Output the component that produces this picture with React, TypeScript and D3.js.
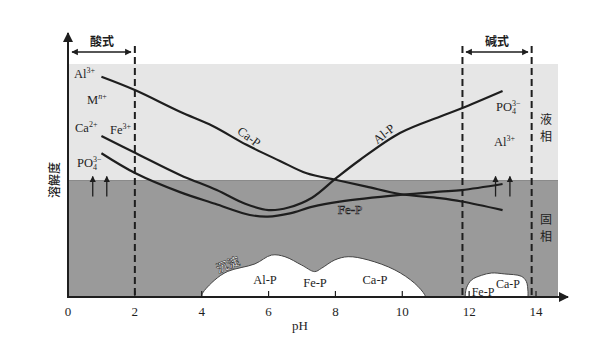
import React from 'react';
import * as d3 from 'd3';

// pH ticks on the x axis
const xTicks = [0, 2, 4, 6, 8, 10, 12, 14];

// solubility curves, [pH, relative solubility]
const caP: [number, number][] = [
  [1.0, 94.5], [2.0, 88.8], [3.35, 79.5], [4.33, 73.4], [5.34, 65.3], [6.34, 58.4],
  [7.14, 53.1], [8.03, 50.2], [8.93, 47.4], [9.93, 44.2], [11.12, 42.4], [11.78, 41.0], [13.0, 37.3],
];
const alP: [number, number][] = [
  [1.0, 69.1], [2.02, 61.8], [3.35, 52.4], [4.45, 45.9], [5.3, 40.0], [6.0, 37.3],
  [6.6, 38.4], [7.3, 42.6], [8.03, 51.1], [8.73, 58.8], [9.93, 70.4], [11.12, 77.4], [11.78, 81.0], [13.0, 88.4],
];
const feP: [number, number][] = [
  [1.0, 61.7], [2.02, 53.1], [3.35, 45.0], [4.4, 40.0], [5.44, 35.2], [5.98, 34.5],
  [6.64, 35.9], [7.32, 38.8], [8.13, 40.9], [9.93, 43.8], [11.12, 45.2], [11.78, 45.9], [13.0, 48.5],
];

// precipitate zones
const precipA: [number, number][] = [
  [4.0, 0], [4.02, 1.5], [4.39, 7.3], [4.78, 11.0], [5.59, 14.2], [6.09, 18.0], [6.49, 17.3],
  [6.99, 13.7], [7.38, 10.9], [7.58, 12.3], [7.98, 15.9], [8.38, 17.3], [8.98, 15.9],
  [9.78, 11.6], [10.37, 5.9], [10.67, 1.0], [10.69, 0],
];
const precipB: [number, number][] = [
  [11.88, 0], [11.92, 3.9], [12.07, 7.3], [12.37, 9.3], [12.67, 10.3], [13.06, 9.9],
  [13.56, 8.9], [13.71, 6.7], [13.76, 2.4], [13.76, 0],
];

// boundaries
const phaseBoundary = 50;
const acidLimit = 2;
const baseLimits = [11.8, 13.87];

const W = 605;
const H = 352;

export default function App() {
  const x = d3.scaleLinear().domain([0, 14]).range([68, 536]);
  const y = d3.scaleLinear().domain([0, 100]).range([297, 64]);

  const line = d3.line<[number, number]>()
    .x(d => x(d[0]))
    .y(d => y(d[1]))
    .curve(d3.curveCatmullRom.alpha(0.5));

  const serif = '"Liberation Serif", "DejaVu Serif", serif';
  const cjk = '"Noto Sans CJK SC", sans-serif';
  const ink = '#1e1e1e';
  const right = 558;

  const sup = (t: string) => <tspan fontSize={8} dy={-5}>{t}</tspan>;

  const po4 = (px: number, py: number) => (
    <text x={px} y={py} fontFamily={serif} fontSize={12.5} fill={ink}>
      PO
      <tspan fontSize={8} dy={3}>4</tspan>
      <tspan fontSize={8} dx={-4} dy={-8}>3−</tspan>
    </text>
  );

  const upArrows = (xs: number[]) =>
    xs.map(v => (
      <line key={v} x1={x(v)} x2={x(v)} y1={y(43.1)} y2={y(52.6) + 2}
        stroke={ink} strokeWidth={1.3} markerEnd="url(#tip)" />
    ));

  return (
    <svg width={W} height={H} style={{ position: 'absolute', left: 0, top: 0, background: '#fff' }}>
      <defs>
        <marker id="tip" viewBox="0 0 10 10" refX="9" refY="5" markerWidth="5" markerHeight="6" orient="auto-start-reverse">
          <path d="M0,0 L10,5 L0,10 z" fill={ink} />
        </marker>
        <marker id="big" viewBox="0 0 10 10" refX="9" refY="5" markerWidth="7" markerHeight="5" orient="auto">
          <path d="M0,0 L10,5 L0,10 z" fill={ink} />
        </marker>
      </defs>

      {/* phase regions */}
      <rect x={x(0)} y={y(100)} width={right - x(0)} height={y(phaseBoundary) - y(100)} fill="#e6e6e6" />
      <rect x={x(0)} y={y(phaseBoundary)} width={right - x(0)} height={y(0) - y(phaseBoundary)} fill="#9a9a9a" />
      <line x1={x(0)} x2={right} y1={y(phaseBoundary)} y2={y(phaseBoundary)} stroke="#8a8a8a" strokeWidth={1} />

      {/* precipitates */}
      <path d={line(precipA) + 'Z'} fill="#fff" stroke="#444" strokeWidth={1} />
      <path d={line(precipB) + 'Z'} fill="#fff" stroke="#444" strokeWidth={1} />

      {/* dashed boundaries */}
      {[acidLimit, ...baseLimits].map(v => (
        <line key={v} x1={x(v)} x2={x(v)} y1={46} y2={y(0)} stroke={ink} strokeWidth={2} strokeDasharray="7,4" />
      ))}

      {/* curves */}
      {[caP, alP, feP].map((d, i) => (
        <path key={i} d={line(d) ?? ''} fill="none" stroke={ink} strokeWidth={2.2} />
      ))}

      {upArrows([0.74, 1.16])}
      {upArrows([12.79, 13.22])}

      {/* axes */}
      <line x1={x(0)} x2={568} y1={y(0)} y2={y(0)} stroke={ink} strokeWidth={2} markerEnd="url(#big)" />
      <line x1={x(0)} x2={x(0)} y1={y(0) + 1} y2={33} stroke={ink} strokeWidth={2} markerEnd="url(#big)" />
      {xTicks.map(t => (
        <g key={t}>
          <line x1={x(t)} x2={x(t)} y1={y(0)} y2={y(0) - 6} stroke={ink} strokeWidth={1.2} />
          <text x={x(t)} y={316} textAnchor="middle" fontFamily={serif} fontSize={13} fill={ink}>{t}</text>
        </g>
      ))}
      <text x={300} y={330} textAnchor="middle" fontFamily={serif} fontSize={13} fill={ink}>pH</text>
      <text transform="translate(59,180) rotate(-90)" textAnchor="middle" fontFamily={cjk} fontSize={12} fontWeight={500} fill={ink}>溶解度</text>

      {/* acid / base ranges */}
      <line x1={72} x2={131} y1={52} y2={52} stroke={ink} strokeWidth={1.3} markerStart="url(#tip)" markerEnd="url(#tip)" />
      <text x={102} y={46} textAnchor="middle" fontFamily={cjk} fontSize={12} fontWeight={700} fill={ink}>酸式</text>
      <line x1={466} x2={528} y1={52} y2={52} stroke={ink} strokeWidth={1.3} markerStart="url(#tip)" markerEnd="url(#tip)" />
      <text x={497} y={46} textAnchor="middle" fontFamily={cjk} fontSize={12} fontWeight={700} fill={ink}>碱式</text>

      {/* ion labels */}
      <text x={74} y={78} fontFamily={serif} fontSize={12.5} fill={ink}>Al{sup('3+')}</text>
      <text x={87} y={104} fontFamily={serif} fontSize={12.5} fill={ink}>M<tspan fontSize={8} dy={-5} fontStyle="italic">n</tspan><tspan fontSize={8}>+</tspan></text>
      <text x={75} y={132} fontFamily={serif} fontSize={12.5} fill={ink}>Ca{sup('2+')}</text>
      <text x={110} y={134} fontFamily={serif} fontSize={12.5} fill={ink}>Fe{sup('3+')}</text>
      {po4(77, 167)}
      {po4(496, 111)}
      <text x={494} y={146} fontFamily={serif} fontSize={12.5} fill={ink}>Al{sup('3+')}</text>

      {/* phase labels */}
      <text x={546} y={124} textAnchor="middle" fontFamily={cjk} fontSize={12} fill={ink}>液</text>
      <text x={546} y={141} textAnchor="middle" fontFamily={cjk} fontSize={12} fill={ink}>相</text>
      <text x={546} y={224} textAnchor="middle" fontFamily={cjk} fontSize={12} fill={ink}>固</text>
      <text x={546} y={241} textAnchor="middle" fontFamily={cjk} fontSize={12} fill={ink}>相</text>

      {/* curve labels */}
      <text transform="translate(249,137) rotate(37)" textAnchor="middle" dy={4} fontFamily={serif} fontSize={12.5} fill={ink}>Ca-P</text>
      <text transform="translate(384,134) rotate(-38)" textAnchor="middle" dy={4} fontFamily={serif} fontSize={12.5} fill={ink}>Al-P</text>
      <text x={350} y={214} textAnchor="middle" fontFamily={serif} fontSize={13} fill="#f4f4f4" stroke="#222" strokeWidth={0.7}>Fe-P</text>
      <text transform="translate(228,265) rotate(-22)" textAnchor="middle" dy={4} fontFamily={cjk} fontSize={12} fontWeight={700} fill="#f4f4f4" stroke="#222" strokeWidth={0.5}>沉淀</text>

      {/* precipitate labels */}
      <text x={265} y={284} textAnchor="middle" fontFamily={serif} fontSize={12.5} fill={ink}>Al-P</text>
      <text x={315} y={287} textAnchor="middle" fontFamily={serif} fontSize={12.5} fill={ink}>Fe-P</text>
      <text x={375} y={284} textAnchor="middle" fontFamily={serif} fontSize={12.5} fill={ink}>Ca-P</text>
      <text x={483} y={296} textAnchor="middle" fontFamily={serif} fontSize={12} fill={ink}>Fe-P</text>
      <text x={508} y={288} textAnchor="middle" fontFamily={serif} fontSize={12} fill={ink}>Ca-P</text>
    </svg>
  );
}
